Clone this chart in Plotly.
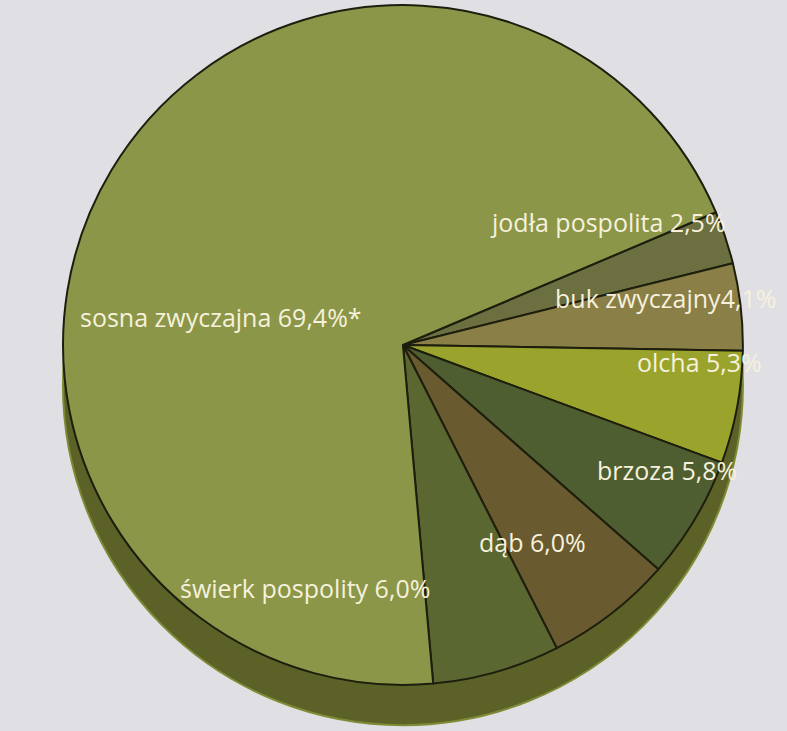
import plotly.graph_objects as go

# Data (clockwise from the upper-right boundary)
species = ["jodła pospolita", "buk zwyczajny", "olcha", "brzoza", "dąb",
           "świerk pospolity", "sosna zwyczajna"]
shares = [2.5, 4.1, 5.3, 5.8, 6.0, 6.0, 69.4]
label_text = ["jodła pospolita 2,5%", "buk zwyczajny4,1%", "olcha 5,3%",
              "brzoza 5,8%", "dąb 6,0%", "świerk pospolity 6,0%",
              "sosna zwyczajna 69,4%*"]

colors = ["#6c6f40", "#8a7f47", "#9aa42c", "#4e5e31", "#6a5a2f",
          "#5a6731", "#8b9648"]

# label anchor positions (paper fractions)
label_pos = [(0.773, 0.696), (0.845, 0.592), (0.889, 0.505),
             (0.848, 0.357), (0.676, 0.259), (0.388, 0.196), (0.281, 0.566)]

fig = go.Figure()

fig.add_trace(go.Pie(
    labels=species,
    values=shares,
    sort=False,
    direction="clockwise",
    rotation=67,
    marker=dict(colors=colors, line=dict(color="#1e1e0e", width=2)),
    textinfo="none",
    hoverinfo="label+value",
    showlegend=False,
    domain=dict(x=[0.024, 1.0], y=[0.063, 0.993]),
))

annotations = []
for txt, (x, y) in zip(label_text, label_pos):
    annotations.append(dict(
        x=x, y=y, xref="paper", yref="paper", text=txt, showarrow=False,
        font=dict(family="Open Sans", size=25, color="#f6f1dc"),
        xanchor="center", yanchor="middle",
    ))

fig.update_layout(
    width=787, height=731,
    margin=dict(l=0, r=0, t=0, b=0),
    paper_bgcolor="#e0e0e4",
    plot_bgcolor="#e0e0e4",
    annotations=annotations,
    shapes=[dict(type="circle", xref="paper", yref="paper", layer="below",
                 x0=0.080, x1=0.944, y0=0.008, y1=0.938,
                 fillcolor="#5b6127", line=dict(color="#7f8a35", width=2))],
)

fig.write_html("out.html", config={"displayModeBar": False},
               post_script="document.body.style.margin='0';document.body.style.overflow='hidden';")
